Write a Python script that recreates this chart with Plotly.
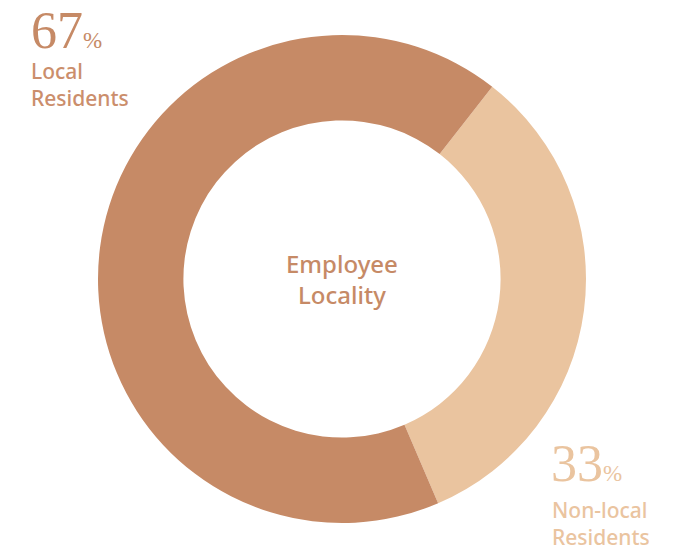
import plotly.graph_objects as go

W, H = 693, 551
OFF = 8  # default page body margin
labels = ["Non-local Residents", "Local Residents"]
values = [33, 67]
colors = ["#EAC49F", "#C68A66"]
pct_labels = ["33", "67"]
label_lines = [["Non-local", "Residents"], ["Local", "Residents"]]
center_title = ["Employee", "Locality"]

cx, cy, r = 342, 279, 244

def px(x):
    return (x - OFF) / W

def py(y):
    return 1 - (y - OFF) / H

fig = go.Figure(go.Pie(
    labels=labels, values=values, hole=0.65, sort=False,
    direction="clockwise", rotation=38,
    marker=dict(colors=colors, line=dict(width=0)),
    textinfo="none", hoverinfo="label+percent", showlegend=False,
    domain=dict(x=[px(cx - r), px(cx + r)], y=[py(cy + r), py(cy - r)]),
))

ann = []
serif = "Liberation Serif, DejaVu Serif, serif"
sans = "Noto Sans, Open Sans, sans-serif"
# Local (67%)
ann.append(dict(x=px(29), y=py(31), xanchor="left", yanchor="middle",
                text=pct_labels[1] + "<span style='font-size:23px'>%</span>",
                font=dict(family=serif, size=52, color="#C68A66")))
ann.append(dict(x=px(29), y=py(55), xanchor="left", yanchor="top",
                text=label_lines[1][0] + "<br>" + label_lines[1][1],
                font=dict(family=sans, size=21, color="#CB8E6C", weight=500)))
# Non-local (33%)
ann.append(dict(x=px(549), y=py(463), xanchor="left", yanchor="middle",
                text=pct_labels[0] + "<span style='font-size:23px'>%</span>",
                font=dict(family=serif, size=52, color="#EAC49F")))
ann.append(dict(x=px(550), y=py(494), xanchor="left", yanchor="top",
                text=label_lines[0][0] + "<br>" + label_lines[0][1],
                font=dict(family=sans, size=21, color="#EAC49F", weight=500)))
# Center
ann.append(dict(x=px(cx), y=py(279), xanchor="center", yanchor="middle",
                text=center_title[0] + "<br>" + center_title[1],
                font=dict(family=sans, size=24, color="#C68A66", weight=500)))
for a in ann:
    a.update(xref="paper", yref="paper", showarrow=False, align="left")
ann[-1]["align"] = "center"

fig.update_layout(width=W, height=H, margin=dict(l=0, r=0, t=0, b=0),
                  paper_bgcolor="white", plot_bgcolor="white",
                  annotations=ann)
fig.write_html("out.html")
